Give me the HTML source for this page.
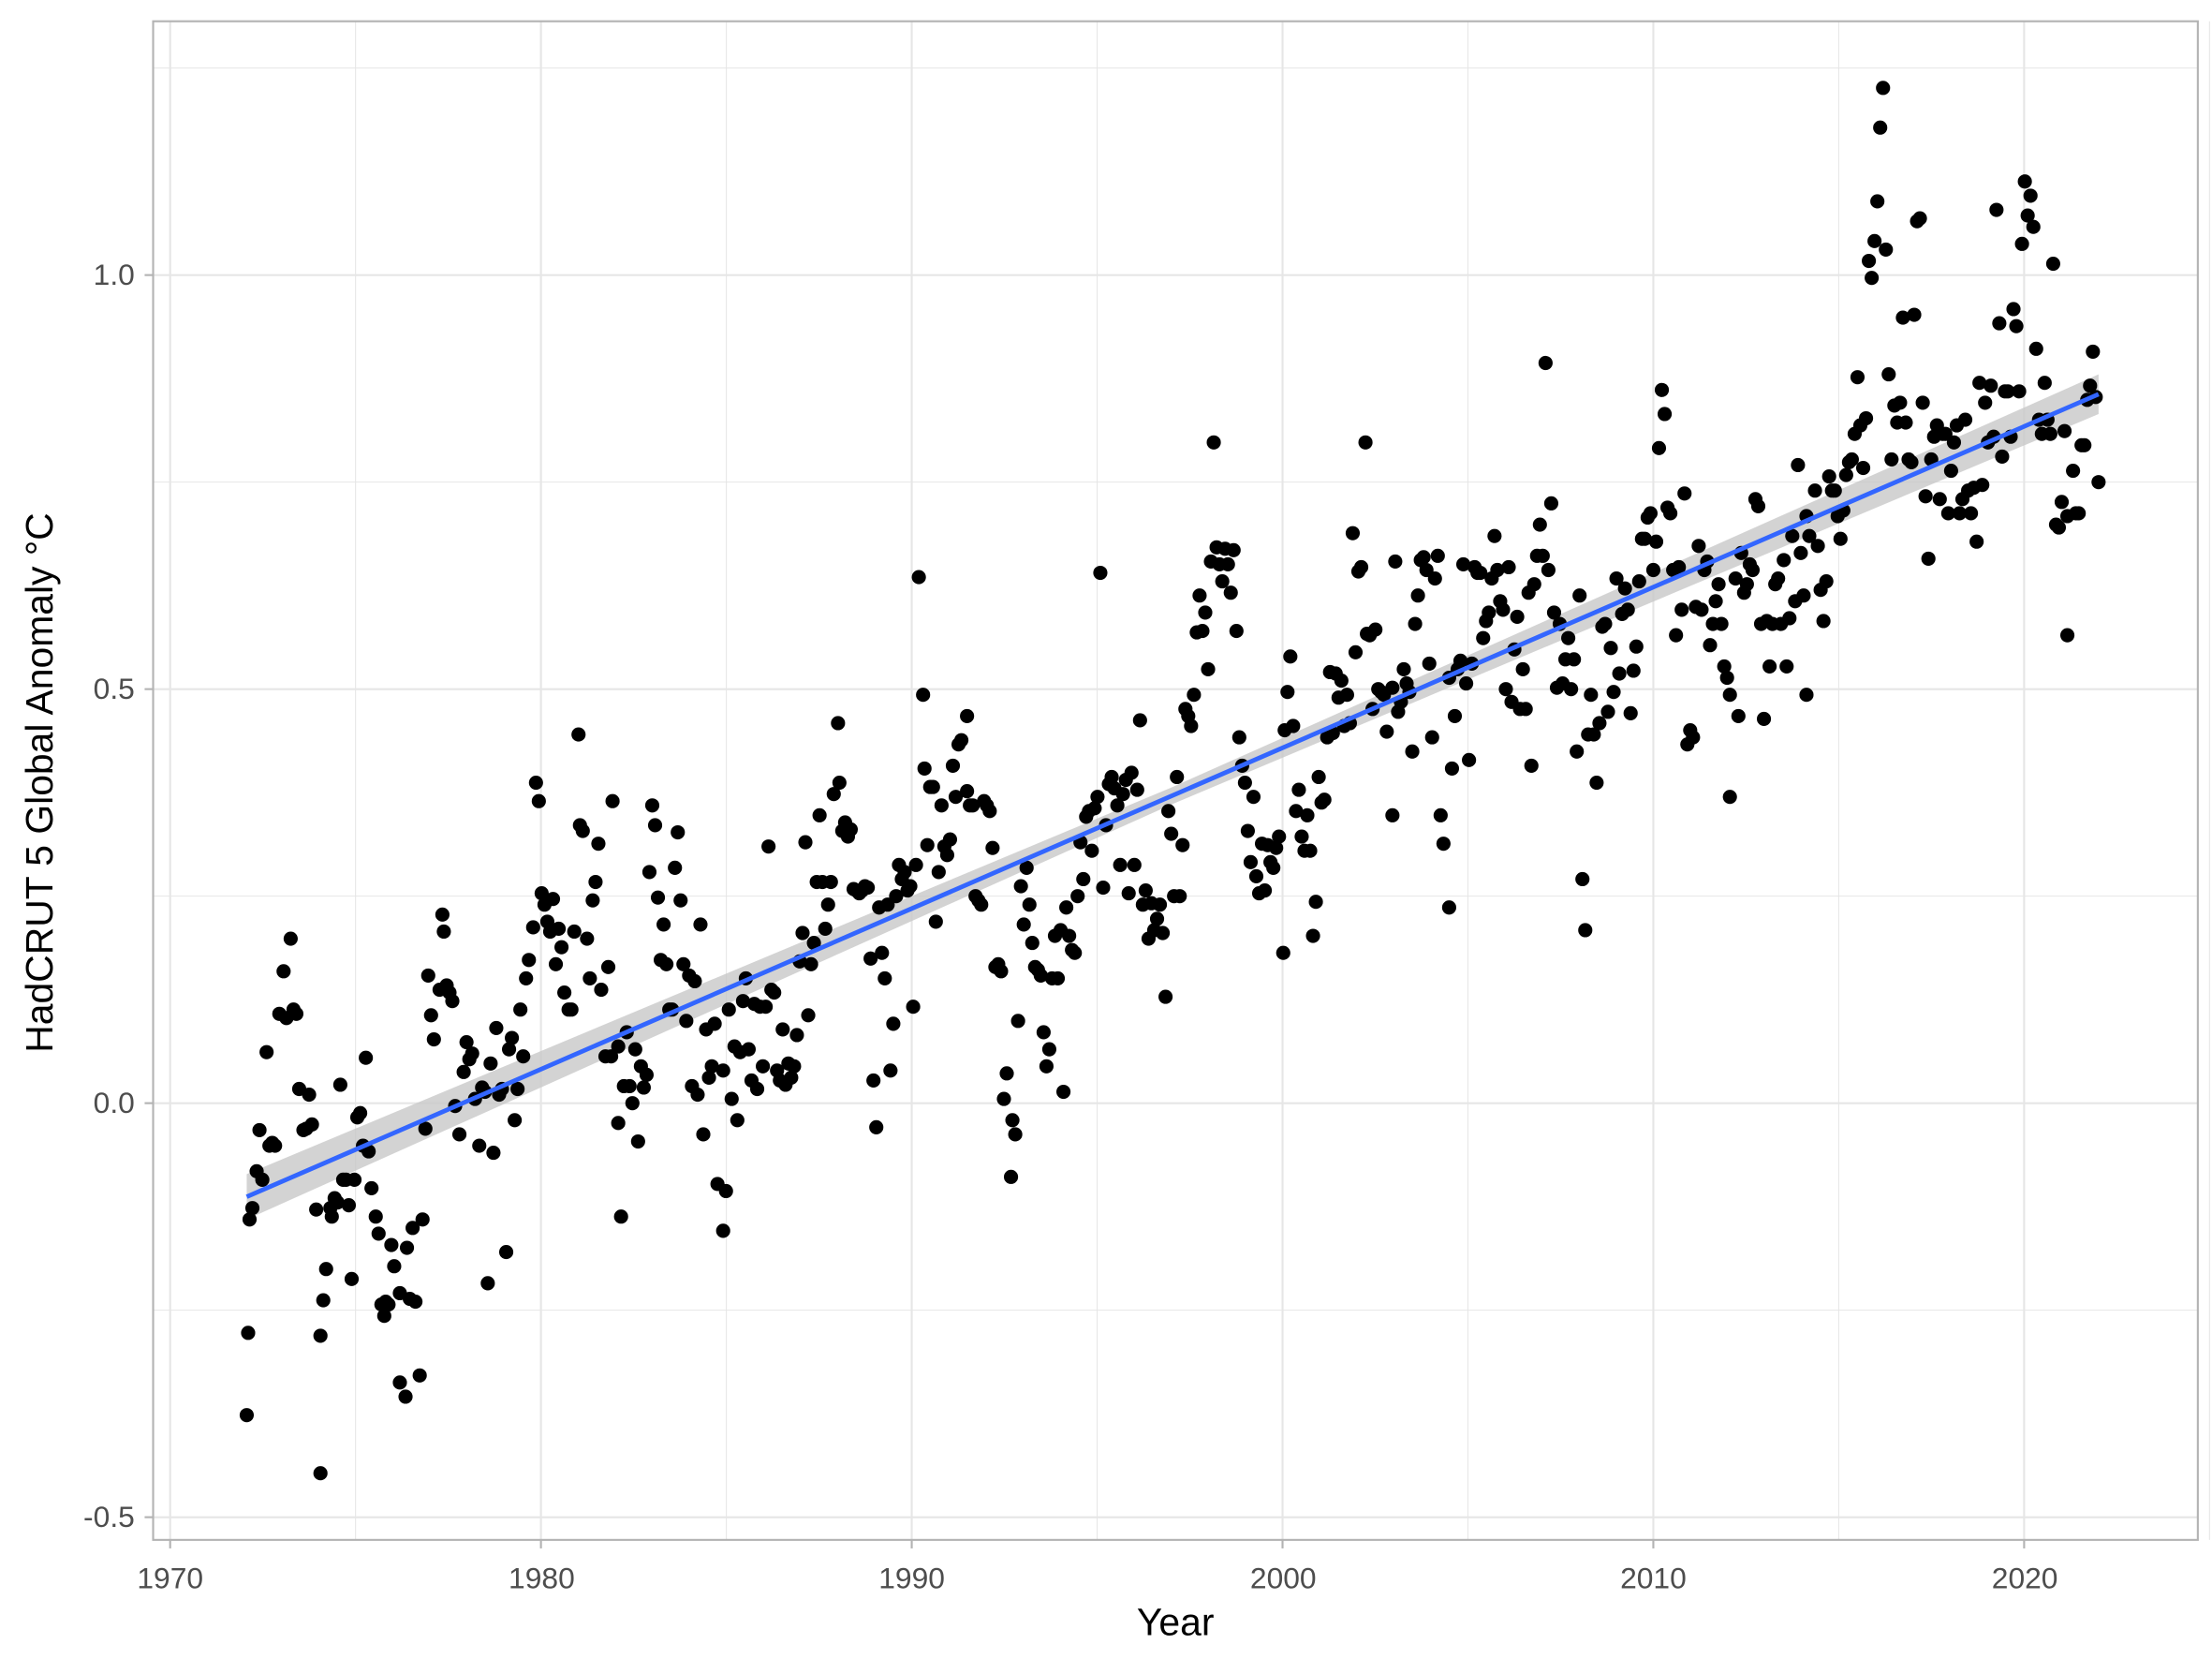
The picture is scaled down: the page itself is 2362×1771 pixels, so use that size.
<!DOCTYPE html>
<html><head><meta charset="utf-8"><style>
html,body{margin:0;padding:0;background:#fff;}
svg{display:block;}
text{font-family:"Liberation Sans",sans-serif;}
</style></head><body>
<svg id="s" width="2362" height="1771" viewBox="0 0 1560 1170" preserveAspectRatio="none" xmlns="http://www.w3.org/2000/svg">
<rect width="1560" height="1170" fill="#fff"/>
<g id="grid" stroke="#e6e6e6"></g>
<path d="M174,828 L827,555 L1480,264 L1480,292 L827,567 L174,860 Z" fill="#c8c8c8" opacity="0.8"/>
<g id="pts" fill="#000"></g>
<line x1="174" y1="844" x2="1480" y2="278" stroke="#3366ff" stroke-width="3.2"/>
<rect x="108" y="15" width="1442" height="1071" fill="none" stroke="#b3b3b3" stroke-width="1.4"/>
<g id="ticks" stroke="#b3b3b3" stroke-width="1.4"></g>
<g fill="#4d4d4d" font-size="21">
<text x="95" y="201" text-anchor="end">1.0</text>
<text x="95" y="493" text-anchor="end">0.5</text>
<text x="95" y="785" text-anchor="end">0.0</text>
<text x="95" y="1077" text-anchor="end">-0.5</text>
<text x="120" y="1120" text-anchor="middle">1970</text>
<text x="382" y="1120" text-anchor="middle">1980</text>
<text x="643" y="1120" text-anchor="middle">1990</text>
<text x="905" y="1120" text-anchor="middle">2000</text>
<text x="1166" y="1120" text-anchor="middle">2010</text>
<text x="1428" y="1120" text-anchor="middle">2020</text>
</g>
<text x="829" y="1153" text-anchor="middle" font-size="27" fill="#000">Year</text>
<text transform="translate(37,552) rotate(-90)" text-anchor="middle" font-size="27" fill="#000">HadCRUT 5 Global Anomaly °C</text>
</svg>
<script>
var NS="http://www.w3.org/2000/svg";
function el(p,t,a){var e=document.createElementNS(NS,t);for(var k in a)e.setAttribute(k,a[k]);p.appendChild(e);}
var g=document.getElementById('grid'),tk=document.getElementById('ticks');
function X(y){return 120+(y-1970)*26.15;}
function Y(v){return 778-v*584;}
for(var y=1970;y<=2025;y+=5){var x=X(y);el(g,'line',{x1:x,x2:x,y1:15,y2:1086,'stroke-width':(y%10==0)?1.4:0.7});if(y%10==0&&y<=2020)el(tk,'line',{x1:x,x2:x,y1:1086,y2:1092});}
for(var v=-0.5;v<=1.25;v+=0.25){var yy=Y(v);el(g,'line',{x1:108,x2:1550,y1:yy,y2:yy,'stroke-width':(Math.abs(v*2-Math.round(v*2))<0.01)?1.4:0.7});if(Math.abs(v*2-Math.round(v*2))<0.01)el(tk,'line',{x1:102,x2:108,y1:yy,y2:yy});}
var P=[174,998,175,940,176,860,178,852,181,826,183,797,185,832,188,742,190,808,192,806,194,808,197,715,200,685,202,718,205,662,207,712,209,715,211,768,214,797,216,796,218,772,220,793,223,853,226,1039,226,942,228,917,230,895,233,852,234,858,236,845,238,848,240,765,242,832,244,832,246,850,248,902,250,832,252,788,254,785,256,808,258,746,260,812,262,838,265,858,267,870,269,920,271,928,272,918,274,920,276,878,278,893,282,975,282,912,286,985,287,880,289,916,291,866,293,918,296,970,298,860,300,796,302,688,304,716,306,733,310,698,312,645,313,657,315,695,317,700,319,706,321,780,324,800,327,756,329,735,331,747,333,743,335,775,338,808,340,767,342,770,344,905,346,750,348,813,350,725,352,772,354,768,357,883,359,740,361,732,363,790,365,768,367,712,369,745,371,690,373,677,376,654,378,552,380,565,382,630,384,638,386,650,388,657,390,634,392,680,394,655,396,668,398,700,401,712,403,712,405,657,408,518,409,582,411,586,414,662,416,690,418,635,420,622,422,595,424,698,427,745,429,682,431,745,432,565,436,792,436,738,438,858,440,766,442,728,444,766,446,778,448,740,450,805,452,752,454,767,456,758,458,615,460,568,462,582,464,633,466,677,468,652,470,680,472,712,474,712,476,612,478,587,480,635,482,680,484,720,486,688,488,766,490,692,492,772,494,652,496,800,498,726,500,760,502,752,504,722,506,835,510,868,510,755,512,840,514,712,516,775,518,738,520,790,522,742,524,706,526,690,528,740,530,762,532,708,534,768,536,710,538,752,540,710,542,597,544,698,546,700,548,755,550,762,552,726,554,765,556,750,558,760,560,752,562,730,564,678,566,658,568,594,570,716,572,680,574,665,576,622,578,575,580,622,582,655,584,638,586,622,588,560,591,510,592,552,594,586,596,580,598,590,600,585,602,627,604,628,606,630,608,628,610,625,612,626,614,676,616,762,618,795,620,640,622,672,624,690,626,638,628,755,630,722,632,632,634,610,636,620,638,615,640,628,642,625,644,710,646,610,648,407,651,490,652,542,654,596,656,555,658,555,660,650,662,615,664,568,666,597,668,603,670,592,672,540,674,562,676,525,678,522,682,505,682,558,684,568,686,568,688,632,690,635,692,638,694,565,696,568,698,572,700,598,702,682,704,680,706,685,708,775,710,757,713,830,714,790,716,800,718,720,720,625,722,652,724,612,726,638,728,665,730,682,732,684,734,688,736,728,738,752,740,740,742,690,744,660,746,690,748,656,750,770,752,640,754,660,756,670,758,672,760,632,762,594,764,620,766,576,768,572,770,600,772,570,774,562,776,404,778,626,780,582,782,553,784,548,786,556,788,568,790,610,792,560,794,550,796,630,798,545,800,610,802,557,804,508,806,638,808,628,810,662,812,637,814,656,816,648,818,638,820,658,822,703,824,572,826,588,828,632,830,548,832,632,834,596,836,500,838,505,840,512,842,490,844,446,846,420,848,445,850,432,852,472,854,396,856,312,858,386,860,398,862,410,864,387,866,398,868,418,870,388,872,445,874,520,876,540,878,552,880,586,882,608,884,562,886,618,888,630,890,595,892,628,894,596,896,608,898,612,900,598,902,590,905,672,906,515,908,488,910,463,912,512,914,572,916,557,918,590,920,600,922,575,924,600,926,660,928,636,930,548,932,566,934,564,936,520,938,474,940,517,942,475,944,492,946,480,948,512,950,490,952,510,954,376,956,460,958,403,960,400,963,312,964,447,966,448,968,500,970,444,972,486,974,488,976,490,978,516,982,575,982,485,984,396,986,502,988,495,990,472,992,482,994,488,996,530,998,440,1000,420,1002,395,1004,393,1006,402,1008,468,1010,520,1012,408,1014,392,1016,575,1018,595,1022,640,1022,478,1024,542,1026,505,1028,472,1030,466,1032,398,1034,482,1036,536,1038,468,1040,400,1042,404,1044,404,1046,450,1048,438,1050,432,1052,408,1054,378,1056,402,1058,424,1060,430,1062,486,1064,400,1066,495,1068,458,1070,435,1072,500,1074,472,1076,500,1078,418,1080,540,1082,412,1084,392,1086,370,1088,392,1090,256,1092,402,1094,355,1096,432,1098,485,1100,440,1102,482,1104,465,1106,450,1108,486,1110,465,1112,530,1114,420,1116,620,1118,656,1120,518,1122,490,1124,518,1126,552,1128,510,1130,442,1132,440,1134,502,1136,457,1138,488,1140,408,1142,475,1144,433,1146,415,1148,430,1150,503,1152,473,1154,456,1156,410,1158,380,1160,380,1162,365,1164,362,1166,402,1168,382,1170,316,1172,275,1174,292,1176,358,1178,362,1180,402,1182,448,1184,400,1186,430,1188,348,1190,525,1192,515,1194,520,1196,428,1198,385,1200,430,1202,402,1204,396,1206,455,1208,440,1210,424,1212,412,1214,440,1216,470,1218,478,1220,490,1220,562,1224,408,1226,505,1228,390,1230,418,1232,412,1234,398,1236,402,1238,352,1240,357,1242,440,1244,507,1246,438,1248,470,1250,440,1252,412,1254,408,1256,440,1258,395,1260,470,1262,436,1264,378,1266,424,1268,328,1270,390,1272,420,1274,364,1276,378,1274,490,1280,346,1282,385,1284,416,1286,438,1288,410,1290,336,1292,346,1294,346,1296,364,1298,380,1300,360,1302,335,1304,326,1306,324,1308,306,1310,266,1312,300,1314,330,1316,295,1318,184,1320,196,1322,170,1324,142,1326,90,1328,62,1330,176,1332,264,1334,324,1336,286,1338,298,1340,284,1342,224,1344,298,1346,324,1348,326,1350,222,1352,156,1354,154,1356,284,1358,350,1360,394,1362,324,1364,308,1366,300,1368,352,1370,306,1372,306,1374,362,1376,332,1378,312,1380,300,1382,362,1384,352,1386,296,1388,346,1390,362,1392,344,1394,382,1396,270,1398,342,1400,284,1402,312,1404,272,1406,308,1408,148,1410,228,1412,322,1414,276,1416,276,1418,308,1420,218,1422,230,1424,276,1426,172,1428,128,1430,152,1432,138,1434,160,1436,246,1438,296,1440,306,1442,270,1444,296,1446,306,1448,186,1450,370,1452,372,1454,354,1456,304,1458,364,1458,448,1462,332,1464,362,1466,362,1468,314,1470,314,1472,282,1474,272,1476,248,1478,280,1480,340];
var pg=document.getElementById('pts');
for(var i=0;i<P.length;i+=2)el(pg,'circle',{cx:P[i],cy:P[i+1],r:5});
</script>
</body></html>
